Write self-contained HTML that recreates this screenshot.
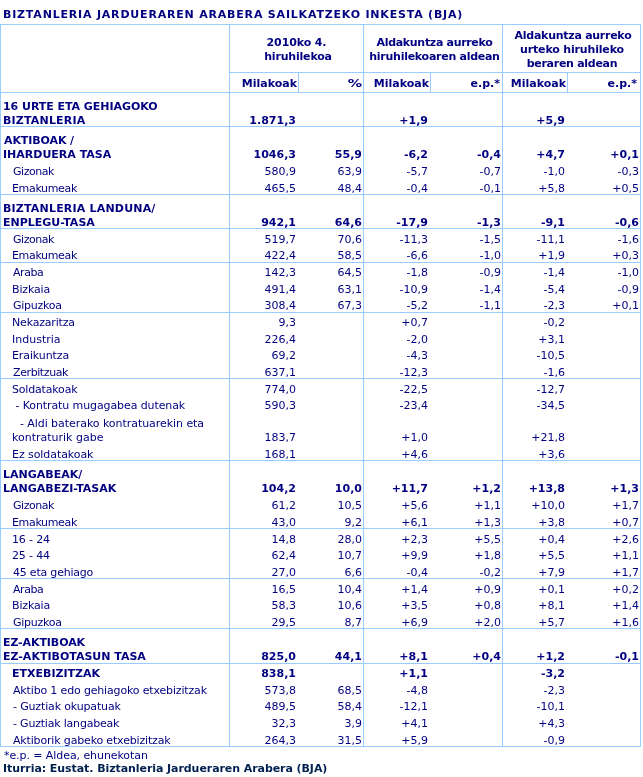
<!DOCTYPE html>
<html lang="eu">
<head>
<meta charset="utf-8">
<title>Biztanleria Jardueraren Arabera Sailkatzeko Inkesta (BJA)</title>
<style>
html,body{margin:0;padding:0;background:#fff;}
body{width:643px;height:777px;position:relative;overflow:hidden;font-family:"DejaVu Sans","Liberation Sans",sans-serif;font-size:11px;color:#000080;}
.ln{position:absolute;background:#99ccff;}
.t{position:absolute;white-space:nowrap;line-height:14px;height:14px;font-size:11px;}
.b{font-weight:bold;}
.ttl{letter-spacing:0.82px;}
.src{color:#002050;}
</style>
</head>
<body>
<div class="ln" style="left:0;top:24px;width:641px;height:1px"></div>
<div class="ln" style="left:0;top:92px;width:641px;height:1px"></div>
<div class="ln" style="left:0;top:126px;width:641px;height:1px"></div>
<div class="ln" style="left:0;top:194px;width:641px;height:1px"></div>
<div class="ln" style="left:0;top:228px;width:641px;height:1px"></div>
<div class="ln" style="left:0;top:262px;width:641px;height:1px"></div>
<div class="ln" style="left:0;top:312px;width:641px;height:1px"></div>
<div class="ln" style="left:0;top:378px;width:641px;height:1px"></div>
<div class="ln" style="left:0;top:460px;width:641px;height:1px"></div>
<div class="ln" style="left:0;top:528px;width:641px;height:1px"></div>
<div class="ln" style="left:0;top:578px;width:641px;height:1px"></div>
<div class="ln" style="left:0;top:628px;width:641px;height:1px"></div>
<div class="ln" style="left:0;top:663px;width:641px;height:1px"></div>
<div class="ln" style="left:0;top:746px;width:641px;height:1px"></div>
<div class="ln" style="left:229px;top:72px;width:412px;height:1px"></div>
<div class="ln" style="left:0px;top:24px;width:1px;height:723px"></div>
<div class="ln" style="left:229px;top:24px;width:1px;height:723px"></div>
<div class="ln" style="left:363px;top:24px;width:1px;height:723px"></div>
<div class="ln" style="left:502px;top:24px;width:1px;height:723px"></div>
<div class="ln" style="left:640px;top:24px;width:1px;height:723px"></div>
<div class="ln" style="left:298px;top:72px;width:1px;height:21px"></div>
<div class="ln" style="left:430px;top:72px;width:1px;height:21px"></div>
<div class="ln" style="left:567px;top:72px;width:1px;height:21px"></div>
<div class="t b ttl" style="top:8px;left:4px;letter-spacing:0.804px;margin-left:-1px;">BIZTANLERIA JARDUERAREN ARABERA SAILKATZEKO INKESTA (BJA)</div>
<div class="t b" style="top:36px;left:146.5px;width:300px;text-align:center;letter-spacing:-0.113px;">2010ko 4.</div>
<div class="t b" style="top:50px;left:147px;width:300px;text-align:center;letter-spacing:-0.180px;margin-left:1px;">hiruhilekoa</div>
<div class="t b" style="top:36px;left:283.5px;width:300px;text-align:center;letter-spacing:-0.318px;margin-left:1px;">Aldakuntza aurreko</div>
<div class="t b" style="top:50px;left:283.5px;width:300px;text-align:center;letter-spacing:-0.270px;margin-left:1px;">hiruhilekoaren aldean</div>
<div class="t b" style="top:29px;left:422px;width:300px;text-align:center;letter-spacing:-0.265px;margin-left:1px;">Aldakuntza aurreko</div>
<div class="t b" style="top:43px;left:422px;width:300px;text-align:center;letter-spacing:-0.169px;">urteko hiruhileko</div>
<div class="t b" style="top:57px;left:422px;width:300px;text-align:center;letter-spacing:-0.277px;">beraren aldean</div>
<div class="t b" style="top:77px;right:346px;">Milakoak</div>
<div class="t b" style="top:77px;right:281px;transform:scaleX(1.3);transform-origin:100% 50%;">%</div>
<div class="t b" style="top:77px;right:214px;">Milakoak</div>
<div class="t b" style="top:77px;right:143px;">e.p.*</div>
<div class="t b" style="top:77px;right:77px;">Milakoak</div>
<div class="t b" style="top:77px;right:6px;">e.p.*</div>
<div class="t b" style="top:100px;left:4px;letter-spacing:-0.045px;margin-left:-1px;">16 URTE ETA GEHIAGOKO</div>
<div class="t b" style="top:114px;left:4px;letter-spacing:0.180px;margin-left:-1px;">BIZTANLERIA</div>
<div class="t b" style="top:114px;right:347px;">1.871,3</div>
<div class="t b" style="top:114px;right:215px;">+1,9</div>
<div class="t b" style="top:114px;right:78px;">+5,9</div>
<div class="t b" style="top:134px;left:4px;letter-spacing:-0.100px;">AKTIBOAK /</div>
<div class="t b" style="top:148px;left:4px;margin-left:-1px;">IHARDUERA TASA</div>
<div class="t b" style="top:148px;right:347px;">1046,3</div>
<div class="t b" style="top:148px;right:281px;">55,9</div>
<div class="t b" style="top:148px;right:215px;">-6,2</div>
<div class="t b" style="top:148px;right:142px;">-0,4</div>
<div class="t b" style="top:148px;right:78px;">+4,7</div>
<div class="t b" style="top:148px;right:4px;">+0,1</div>
<div class="t" style="top:165px;left:12px;letter-spacing:-0.450px;margin-left:1px;">Gizonak</div>
<div class="t" style="top:165px;right:347px;">580,9</div>
<div class="t" style="top:165px;right:281px;">63,9</div>
<div class="t" style="top:165px;right:215px;">-5,7</div>
<div class="t" style="top:165px;right:142px;">-0,7</div>
<div class="t" style="top:165px;right:78px;">-1,0</div>
<div class="t" style="top:165px;right:4px;">-0,3</div>
<div class="t" style="top:182px;left:12px;letter-spacing:-0.338px;">Emakumeak</div>
<div class="t" style="top:182px;right:347px;">465,5</div>
<div class="t" style="top:182px;right:281px;">48,4</div>
<div class="t" style="top:182px;right:215px;">-0,4</div>
<div class="t" style="top:182px;right:142px;">-0,1</div>
<div class="t" style="top:182px;right:78px;">+5,8</div>
<div class="t" style="top:182px;right:4px;">+0,5</div>
<div class="t b" style="top:202px;left:4px;letter-spacing:0.189px;margin-left:-1px;">BIZTANLERIA LANDUNA/</div>
<div class="t b" style="top:216px;left:4px;margin-left:-1px;">ENPLEGU-TASA</div>
<div class="t b" style="top:216px;right:347px;">942,1</div>
<div class="t b" style="top:216px;right:281px;">64,6</div>
<div class="t b" style="top:216px;right:215px;">-17,9</div>
<div class="t b" style="top:216px;right:142px;">-1,3</div>
<div class="t b" style="top:216px;right:78px;">-9,1</div>
<div class="t b" style="top:216px;right:4px;">-0,6</div>
<div class="t" style="top:233px;left:12px;letter-spacing:-0.450px;margin-left:1px;">Gizonak</div>
<div class="t" style="top:233px;right:347px;">519,7</div>
<div class="t" style="top:233px;right:281px;">70,6</div>
<div class="t" style="top:233px;right:215px;">-11,3</div>
<div class="t" style="top:233px;right:142px;">-1,5</div>
<div class="t" style="top:233px;right:78px;">-11,1</div>
<div class="t" style="top:233px;right:4px;">-1,6</div>
<div class="t" style="top:249px;left:12px;letter-spacing:-0.338px;">Emakumeak</div>
<div class="t" style="top:249px;right:347px;">422,4</div>
<div class="t" style="top:249px;right:281px;">58,5</div>
<div class="t" style="top:249px;right:215px;">-6,6</div>
<div class="t" style="top:249px;right:142px;">-1,0</div>
<div class="t" style="top:249px;right:78px;">+1,9</div>
<div class="t" style="top:249px;right:4px;">+0,3</div>
<div class="t" style="top:266px;left:12px;letter-spacing:-0.450px;margin-left:1px;">Araba</div>
<div class="t" style="top:266px;right:347px;">142,3</div>
<div class="t" style="top:266px;right:281px;">64,5</div>
<div class="t" style="top:266px;right:215px;">-1,8</div>
<div class="t" style="top:266px;right:142px;">-0,9</div>
<div class="t" style="top:266px;right:78px;">-1,4</div>
<div class="t" style="top:266px;right:4px;">-1,0</div>
<div class="t" style="top:283px;left:12px;letter-spacing:-0.150px;">Bizkaia</div>
<div class="t" style="top:283px;right:347px;">491,4</div>
<div class="t" style="top:283px;right:281px;">63,1</div>
<div class="t" style="top:283px;right:215px;">-10,9</div>
<div class="t" style="top:283px;right:142px;">-1,4</div>
<div class="t" style="top:283px;right:78px;">-5,4</div>
<div class="t" style="top:283px;right:4px;">-0,9</div>
<div class="t" style="top:299px;left:12px;letter-spacing:-0.257px;margin-left:1px;">Gipuzkoa</div>
<div class="t" style="top:299px;right:347px;">308,4</div>
<div class="t" style="top:299px;right:281px;">67,3</div>
<div class="t" style="top:299px;right:215px;">-5,2</div>
<div class="t" style="top:299px;right:142px;">-1,1</div>
<div class="t" style="top:299px;right:78px;">-2,3</div>
<div class="t" style="top:299px;right:4px;">+0,1</div>
<div class="t" style="top:316px;left:12px;letter-spacing:-0.180px;">Nekazaritza</div>
<div class="t" style="top:316px;right:347px;">9,3</div>
<div class="t" style="top:316px;right:215px;">+0,7</div>
<div class="t" style="top:316px;right:78px;">-0,2</div>
<div class="t" style="top:333px;left:12px;">Industria</div>
<div class="t" style="top:333px;right:347px;">226,4</div>
<div class="t" style="top:333px;right:215px;">-2,0</div>
<div class="t" style="top:333px;right:78px;">+3,1</div>
<div class="t" style="top:349px;left:12px;letter-spacing:-0.100px;">Eraikuntza</div>
<div class="t" style="top:349px;right:347px;">69,2</div>
<div class="t" style="top:349px;right:215px;">-4,3</div>
<div class="t" style="top:349px;right:78px;">-10,5</div>
<div class="t" style="top:366px;left:12px;letter-spacing:-0.400px;margin-left:1px;">Zerbitzuak</div>
<div class="t" style="top:366px;right:347px;">637,1</div>
<div class="t" style="top:366px;right:215px;">-12,3</div>
<div class="t" style="top:366px;right:78px;">-1,6</div>
<div class="t" style="top:383px;left:12px;letter-spacing:-0.180px;">Soldatakoak</div>
<div class="t" style="top:383px;right:347px;">774,0</div>
<div class="t" style="top:383px;right:215px;">-22,5</div>
<div class="t" style="top:383px;right:78px;">-12,7</div>
<div class="t" style="top:399px;left:12px;letter-spacing:-0.096px;">&nbsp;- Kontratu mugagabea dutenak</div>
<div class="t" style="top:399px;right:347px;">590,3</div>
<div class="t" style="top:399px;right:215px;">-23,4</div>
<div class="t" style="top:399px;right:78px;">-34,5</div>
<div class="t" style="top:417px;left:12px;letter-spacing:-0.051px;margin-left:1px;">&nbsp;&nbsp;- Aldi baterako kontratuarekin eta</div>
<div class="t" style="top:431px;left:12px;">kontraturik gabe</div>
<div class="t" style="top:431px;right:347px;">183,7</div>
<div class="t" style="top:431px;right:215px;">+1,0</div>
<div class="t" style="top:431px;right:78px;">+21,8</div>
<div class="t" style="top:448px;left:12px;letter-spacing:-0.069px;">Ez soldatakoak</div>
<div class="t" style="top:448px;right:347px;">168,1</div>
<div class="t" style="top:448px;right:215px;">+4,6</div>
<div class="t" style="top:448px;right:78px;">+3,6</div>
<div class="t b" style="top:468px;left:4px;margin-left:-1px;">LANGABEAK/</div>
<div class="t b" style="top:482px;left:4px;margin-left:-1px;">LANGABEZI-TASAK</div>
<div class="t b" style="top:482px;right:347px;">104,2</div>
<div class="t b" style="top:482px;right:281px;">10,0</div>
<div class="t b" style="top:482px;right:215px;">+11,7</div>
<div class="t b" style="top:482px;right:142px;">+1,2</div>
<div class="t b" style="top:482px;right:78px;">+13,8</div>
<div class="t b" style="top:482px;right:4px;">+1,3</div>
<div class="t" style="top:499px;left:12px;letter-spacing:-0.450px;margin-left:1px;">Gizonak</div>
<div class="t" style="top:499px;right:347px;">61,2</div>
<div class="t" style="top:499px;right:281px;">10,5</div>
<div class="t" style="top:499px;right:215px;">+5,6</div>
<div class="t" style="top:499px;right:142px;">+1,1</div>
<div class="t" style="top:499px;right:78px;">+10,0</div>
<div class="t" style="top:499px;right:4px;">+1,7</div>
<div class="t" style="top:516px;left:12px;letter-spacing:-0.338px;">Emakumeak</div>
<div class="t" style="top:516px;right:347px;">43,0</div>
<div class="t" style="top:516px;right:281px;">9,2</div>
<div class="t" style="top:516px;right:215px;">+6,1</div>
<div class="t" style="top:516px;right:142px;">+1,3</div>
<div class="t" style="top:516px;right:78px;">+3,8</div>
<div class="t" style="top:516px;right:4px;">+0,7</div>
<div class="t" style="top:533px;left:12px;letter-spacing:-0.150px;">16 - 24</div>
<div class="t" style="top:533px;right:347px;">14,8</div>
<div class="t" style="top:533px;right:281px;">28,0</div>
<div class="t" style="top:533px;right:215px;">+2,3</div>
<div class="t" style="top:533px;right:142px;">+5,5</div>
<div class="t" style="top:533px;right:78px;">+0,4</div>
<div class="t" style="top:533px;right:4px;">+2,6</div>
<div class="t" style="top:549px;left:12px;letter-spacing:-0.150px;">25 - 44</div>
<div class="t" style="top:549px;right:347px;">62,4</div>
<div class="t" style="top:549px;right:281px;">10,7</div>
<div class="t" style="top:549px;right:215px;">+9,9</div>
<div class="t" style="top:549px;right:142px;">+1,8</div>
<div class="t" style="top:549px;right:78px;">+5,5</div>
<div class="t" style="top:549px;right:4px;">+1,1</div>
<div class="t" style="top:566px;left:12px;letter-spacing:-0.208px;margin-left:1px;">45 eta gehiago</div>
<div class="t" style="top:566px;right:347px;">27,0</div>
<div class="t" style="top:566px;right:281px;">6,6</div>
<div class="t" style="top:566px;right:215px;">-0,4</div>
<div class="t" style="top:566px;right:142px;">-0,2</div>
<div class="t" style="top:566px;right:78px;">+7,9</div>
<div class="t" style="top:566px;right:4px;">+1,7</div>
<div class="t" style="top:583px;left:12px;letter-spacing:-0.450px;margin-left:1px;">Araba</div>
<div class="t" style="top:583px;right:347px;">16,5</div>
<div class="t" style="top:583px;right:281px;">10,4</div>
<div class="t" style="top:583px;right:215px;">+1,4</div>
<div class="t" style="top:583px;right:142px;">+0,9</div>
<div class="t" style="top:583px;right:78px;">+0,1</div>
<div class="t" style="top:583px;right:4px;">+0,2</div>
<div class="t" style="top:599px;left:12px;letter-spacing:-0.150px;">Bizkaia</div>
<div class="t" style="top:599px;right:347px;">58,3</div>
<div class="t" style="top:599px;right:281px;">10,6</div>
<div class="t" style="top:599px;right:215px;">+3,5</div>
<div class="t" style="top:599px;right:142px;">+0,8</div>
<div class="t" style="top:599px;right:78px;">+8,1</div>
<div class="t" style="top:599px;right:4px;">+1,4</div>
<div class="t" style="top:616px;left:12px;letter-spacing:-0.257px;margin-left:1px;">Gipuzkoa</div>
<div class="t" style="top:616px;right:347px;">29,5</div>
<div class="t" style="top:616px;right:281px;">8,7</div>
<div class="t" style="top:616px;right:215px;">+6,9</div>
<div class="t" style="top:616px;right:142px;">+2,0</div>
<div class="t" style="top:616px;right:78px;">+5,7</div>
<div class="t" style="top:616px;right:4px;">+1,6</div>
<div class="t b" style="top:636px;left:4px;letter-spacing:-0.090px;margin-left:-1px;">EZ-AKTIBOAK</div>
<div class="t b" style="top:650px;left:4px;margin-left:-1px;">EZ-AKTIBOTASUN TASA</div>
<div class="t b" style="top:650px;right:347px;">825,0</div>
<div class="t b" style="top:650px;right:281px;">44,1</div>
<div class="t b" style="top:650px;right:215px;">+8,1</div>
<div class="t b" style="top:650px;right:142px;">+0,4</div>
<div class="t b" style="top:650px;right:78px;">+1,2</div>
<div class="t b" style="top:650px;right:4px;">-0,1</div>
<div class="t b" style="top:667px;left:12px;">ETXEBIZITZAK</div>
<div class="t b" style="top:667px;right:347px;">838,1</div>
<div class="t b" style="top:667px;right:215px;">+1,1</div>
<div class="t b" style="top:667px;right:78px;">-3,2</div>
<div class="t" style="top:684px;left:12px;letter-spacing:-0.159px;margin-left:1px;">Aktibo 1 edo gehiagoko etxebizitzak</div>
<div class="t" style="top:684px;right:347px;">573,8</div>
<div class="t" style="top:684px;right:281px;">68,5</div>
<div class="t" style="top:684px;right:215px;">-4,8</div>
<div class="t" style="top:684px;right:78px;">-2,3</div>
<div class="t" style="top:700px;left:12px;letter-spacing:-0.150px;margin-left:1px;">- Guztiak okupatuak</div>
<div class="t" style="top:700px;right:347px;">489,5</div>
<div class="t" style="top:700px;right:281px;">58,4</div>
<div class="t" style="top:700px;right:215px;">-12,1</div>
<div class="t" style="top:700px;right:78px;">-10,1</div>
<div class="t" style="top:717px;left:12px;letter-spacing:-0.200px;margin-left:1px;">- Guztiak langabeak</div>
<div class="t" style="top:717px;right:347px;">32,3</div>
<div class="t" style="top:717px;right:281px;">3,9</div>
<div class="t" style="top:717px;right:215px;">+4,1</div>
<div class="t" style="top:717px;right:78px;">+4,3</div>
<div class="t" style="top:734px;left:12px;letter-spacing:-0.161px;margin-left:1px;">Aktiborik gabeko etxebizitzak</div>
<div class="t" style="top:734px;right:347px;">264,3</div>
<div class="t" style="top:734px;right:281px;">31,5</div>
<div class="t" style="top:734px;right:215px;">+5,9</div>
<div class="t" style="top:734px;right:78px;">-0,9</div>
<div class="t" style="top:749px;left:4px;letter-spacing:-0.075px;">*e.p. = Aldea, ehunekotan</div>
<div class="t b src" style="top:762px;left:4px;letter-spacing:-0.068px;margin-left:-1px;">Iturria: Eustat. Biztanleria Jardueraren Arabera (BJA)</div>
</body>
</html>
